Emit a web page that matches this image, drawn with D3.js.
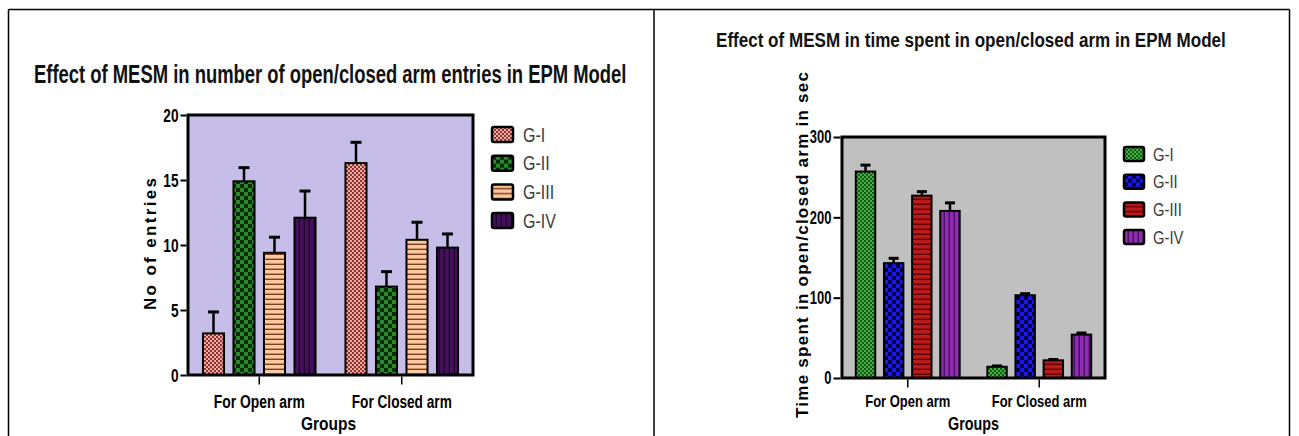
<!DOCTYPE html>
<html>
<head>
<meta charset="utf-8">
<script src="https://cdn.jsdelivr.net/npm/d3@7"></script>
<style>
  body { margin: 0; background: #fff; }
  svg { display: block; }
</style>
</head>
<body>
<div id="canvas"></div>
<script>
// categories and series
const groups = ["For Open arm", "For Closed arm"];
const series = ["G-I", "G-II", "G-III", "G-IV"];

// chart 1: number of entries (mean and +error)
const entriesOpen = [3.2, 14.9, 9.4, 12.1];
const entriesOpenErr = [1.65, 1.05, 1.2, 2.05];
const entriesClosed = [16.3, 6.8, 10.4, 9.8];
const entriesClosedErr = [1.6, 1.15, 1.35, 1.05];
const entriesTicks = [0, 5, 10, 15, 20];

// chart 2: time spent in sec
const timeOpen = [257, 143, 227, 208];
const timeOpenErr = [8, 6, 5, 10];
const timeClosed = [14, 103, 22, 54];
const timeClosedErr = [1, 2, 1, 2];
const timeTicks = [0, 100, 200, 300];

const W = 1299, H = 436;
const NARROW = "'Liberation Sans Narrow','Arial Narrow','Liberation Sans',Arial,sans-serif";
const WIDE = "'Liberation Sans',Arial,sans-serif";

const svg = d3.select("#canvas").append("svg")
  .attr("width", W)
  .attr("height", H);

const defs = svg.append("defs");

// fill patterns for the bars
function checker(id, size, c1, c2) {
  const p = defs.append("pattern").attr("id", id)
    .attr("patternUnits", "userSpaceOnUse")
    .attr("width", size * 2).attr("height", size * 2);
  p.append("rect").attr("width", size * 2).attr("height", size * 2).attr("fill", c1);
  p.append("rect").attr("width", size).attr("height", size).attr("fill", c2);
  p.append("rect").attr("x", size).attr("y", size).attr("width", size).attr("height", size).attr("fill", c2);
}
function hstripe(id, size, bg, line, lw) {
  const p = defs.append("pattern").attr("id", id)
    .attr("patternUnits", "userSpaceOnUse")
    .attr("width", 10).attr("height", size);
  p.append("rect").attr("width", 10).attr("height", size).attr("fill", bg);
  p.append("rect").attr("y", size - lw).attr("width", 10).attr("height", lw).attr("fill", line);
}
function vstripe(id, size, bg, line, lw) {
  const p = defs.append("pattern").attr("id", id)
    .attr("patternUnits", "userSpaceOnUse")
    .attr("width", size).attr("height", 10);
  p.append("rect").attr("width", size).attr("height", 10).attr("fill", bg);
  p.append("rect").attr("x", size - lw).attr("width", lw).attr("height", 10).attr("fill", line);
}

checker("pA1", 2, "#eeaca4", "#8e3430");
checker("pA2", 4, "#2a8a2a", "#0a2c0a");
hstripe("pA3", 5, "#fcc89e", "#7a3c22", 1.4);
vstripe("pA4", 5, "#44105a", "#1e0030", 1.3);

checker("pB1", 2, "#46b046", "#145a14");
checker("pB2", 4, "#1818e8", "#00004a");
hstripe("pB3", 5, "#bc1a1a", "#5a0000", 1.4);
vstripe("pB4", 5, "#8e2eae", "#4a0a68", 1.4);

// table frame
const frame = svg.append("g").attr("stroke", "#000").attr("stroke-width", 1.5);
frame.append("line").attr("x1", 8.5).attr("x2", 1289.5).attr("y1", 9.5).attr("y2", 9.5);
frame.append("line").attr("x1", 8.5).attr("x2", 8.5).attr("y1", 9.5).attr("y2", H);
frame.append("line").attr("x1", 654).attr("x2", 654).attr("y1", 9.5).attr("y2", H);
frame.append("line").attr("x1", 1289.5).attr("x2", 1289.5).attr("y1", 9.5).attr("y2", H);

// the reference uses a condensed face, so squeeze the text horizontally
function fit(sel, len, adjust) {
  sel.attr("textLength", len).attr("lengthAdjust", adjust || "spacingAndGlyphs");
  return sel;
}
function narrow(sel, k) {
  sel.each(function() {
    const w = this.getComputedTextLength();
    d3.select(this).attr("textLength", w * k).attr("lengthAdjust", "spacingAndGlyphs");
  });
}
// scale a left-anchored text to a target width with a transform
function squeezeTo(sel, x, y, target) {
  const w = sel.node().getComputedTextLength();
  sel.attr("transform", `translate(${x},${y}) scale(${target / w},1)`);
}

function drawChart(c) {
  const g = svg.append("g");

  const x0 = d3.scaleBand().domain(groups)
    .range([c.left, c.right]).paddingInner(0.21).paddingOuter(0.105);
  const x1 = d3.scaleBand().domain(series)
    .range([0, x0.bandwidth()]).paddingInner(0.31);
  const y = d3.scaleLinear().domain([0, c.ticks[c.ticks.length - 1]])
    .range([c.bottom, c.top]);

  // plot background
  g.append("rect")
    .attr("x", c.left).attr("y", c.top)
    .attr("width", c.right - c.left).attr("height", c.bottom - c.top)
    .attr("fill", c.bg);

  const rows = groups.map((grp, gi) => series.map((s, si) => ({
    grp, s, si, v: c.values[gi][si], e: c.errors[gi][si]
  }))).flat();

  // error bars (upper only)
  const eb = g.append("g").attr("stroke", "#000");
  eb.selectAll("line.stem").data(rows).enter().append("line")
    .attr("class", "stem")
    .attr("stroke-width", 2.5)
    .attr("x1", d => x0(d.grp) + x1(d.s) + x1.bandwidth() / 2)
    .attr("x2", d => x0(d.grp) + x1(d.s) + x1.bandwidth() / 2)
    .attr("y1", d => y(d.v))
    .attr("y2", d => y(d.v + d.e));
  eb.selectAll("line.cap").data(rows).enter().append("line")
    .attr("class", "cap")
    .attr("stroke-width", 3)
    .attr("x1", d => x0(d.grp) + x1(d.s) + x1.bandwidth() / 2 - c.cap / 2)
    .attr("x2", d => x0(d.grp) + x1(d.s) + x1.bandwidth() / 2 + c.cap / 2)
    .attr("y1", d => y(d.v + d.e))
    .attr("y2", d => y(d.v + d.e));

  // bars
  g.selectAll("rect.bar").data(rows).enter().append("rect")
    .attr("class", "bar")
    .attr("x", d => x0(d.grp) + x1(d.s))
    .attr("y", d => y(d.v))
    .attr("width", x1.bandwidth())
    .attr("height", d => c.bottom - y(d.v))
    .attr("fill", d => `url(#${c.patterns[d.si]})`)
    .attr("stroke", "#000")
    .attr("stroke-width", 2);

  // plot frame
  g.append("rect")
    .attr("x", c.left).attr("y", c.top)
    .attr("width", c.right - c.left).attr("height", c.bottom - c.top)
    .attr("fill", "none").attr("stroke", "#000").attr("stroke-width", 3);

  // y axis
  const ya = g.append("g")
    .attr("transform", `translate(${c.left - 1.5},0)`)
    .call(d3.axisLeft(y).tickValues(c.ticks).tickSize(c.tickLen).tickPadding(2));
  ya.select(".domain").remove();
  ya.selectAll(".tick line").attr("stroke", "#000").attr("stroke-width", 2);
  ya.selectAll(".tick text")
    .attr("fill", "#000")
    .style("font-family", NARROW)
    .style("font-weight", "bold")
    .style("font-size", c.tickFont + "px")
    .call(narrow, 0.72);

  // x axis
  const xa = g.append("g")
    .attr("transform", `translate(0,${c.bottom + 1.5})`)
    .call(d3.axisBottom(x0).tickSize(8).tickPadding(c.xPad));
  xa.select(".domain").remove();
  xa.selectAll(".tick line").attr("stroke", "#000").attr("stroke-width", 1.5);
  xa.selectAll(".tick text")
    .attr("fill", "#000")
    .style("font-family", NARROW)
    .style("font-weight", "bold")
    .style("font-size", c.xFont + "px")
    .each(function(d, i) { fit(d3.select(this), c.xWidths[i]); });

  // axis titles
  fit(g.append("text")
    .attr("x", (c.left + c.right) / 2 + c.groupsDx).attr("y", c.groupsY)
    .attr("text-anchor", "middle")
    .style("font-family", NARROW).style("font-weight", "bold")
    .style("font-size", "18px")
    .text("Groups"), c.groupsW);

  fit(g.append("text")
    .attr("transform", `translate(${c.yLabelX},${c.yLabelY}) rotate(-90)`)
    .attr("text-anchor", "middle")
    .style("font-family", WIDE).style("font-weight", "bold")
    .style("font-size", c.yLabelFont + "px")
    .text(c.yLabel), c.yLabelW, "spacing");

  // chart title
  const title = g.append("text")
    .style("font-family", NARROW).style("font-weight", "bold")
    .style("font-size", c.titleFont + "px")
    .attr("fill", "#111")
    .text(c.title);
  squeezeTo(title, c.titleX, c.titleY, c.titleW);

  // legend
  const lg = g.append("g").selectAll("g").data(series).enter().append("g")
    .attr("transform", (d, i) => `translate(${c.legX},${c.legY + i * c.legStep})`);
  lg.append("rect")
    .attr("width", c.swW).attr("height", c.swH).attr("rx", 2)
    .attr("fill", (d, i) => `url(#${c.patterns[i]})`)
    .attr("stroke", "#000").attr("stroke-width", 2.5);
  lg.append("text")
    .attr("x", c.swW + c.legGap).attr("y", c.swH / 2).attr("dy", "0.36em")
    .style("font-family", NARROW)
    .style("font-size", c.legFont + "px")
    .attr("fill", "#3c3c3c")
    .text(d => d)
    .call(narrow, 0.8);
}

drawChart({
  left: 188, right: 473, top: 115, bottom: 375,
  bg: "#c6bee8",
  values: [entriesOpen, entriesClosed],
  errors: [entriesOpenErr, entriesClosedErr],
  ticks: entriesTicks,
  patterns: ["pA1", "pA2", "pA3", "pA4"],
  cap: 11, tickLen: 6, tickFont: 19,
  xFont: 18, xPad: 11, xWidths: [91, 100],
  groupsY: 430, groupsW: 55, groupsDx: -2,
  yLabel: "No of entries", yLabelX: 156, yLabelY: 244, yLabelFont: 17, yLabelW: 132,
  title: "Effect of MESM in number of open/closed arm entries in EPM Model",
  titleX: 34, titleY: 83, titleFont: 26, titleW: 593,
  legX: 492, legY: 127, legStep: 28.7, swW: 21, swH: 15, legGap: 10, legFont: 20
});

drawChart({
  left: 842, right: 1105, top: 137, bottom: 378,
  bg: "#c0c0c0",
  values: [timeOpen, timeClosed],
  errors: [timeOpenErr, timeClosedErr],
  ticks: timeTicks,
  patterns: ["pB1", "pB2", "pB3", "pB4"],
  cap: 10, tickLen: 7, tickFont: 18,
  xFont: 17, xPad: 7, xWidths: [85, 95],
  groupsY: 430, groupsW: 51, groupsDx: 0,
  yLabel: "Time spent in open/closed arm in sec", yLabelX: 808, yLabelY: 245, yLabelFont: 17, yLabelW: 346,
  title: "Effect of MESM in time spent in open/closed arm in EPM Model",
  titleX: 716, titleY: 47, titleFont: 21, titleW: 510,
  legX: 1124, legY: 147, legStep: 27.7, swW: 20, swH: 14, legGap: 9, legFont: 18.5
});
</script>
</body>
</html>
